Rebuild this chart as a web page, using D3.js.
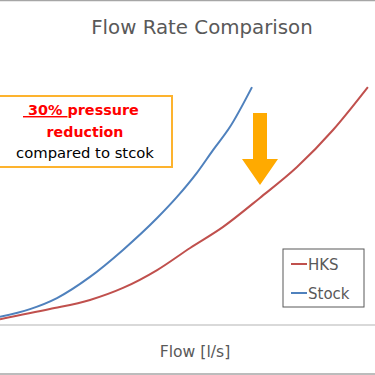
<!DOCTYPE html>
<html>
<head>
<meta charset="utf-8">
<script src="https://cdn.jsdelivr.net/npm/d3@7"></script>
<style>
body { margin: 0; background: #fff; }
svg { display: block; font-family: "DejaVu Sans", sans-serif; }
</style>
</head>
<body>
<svg id="SvgContainer"></svg>
<script>
// flow values (arbitrary units) and pressure readings per series
var stockFlow = [0, 8, 15.2, 24, 32.8, 41.9, 47.2, 52.5, 56.8, 61.3, 67.2];
var stockPressure = [2.5, 4.9, 8.3, 14.8, 23.1, 32.9, 39.4, 46.8, 53.8, 60.9, 73.2];
var hksFlow = [0, 13.3, 24, 32.8, 41.9, 50.7, 59.5, 69.3, 79.2, 88.8, 98.1];
var hksPressure = [1.8, 4.9, 7.7, 11.4, 16.9, 23.7, 30.2, 39.1, 48.6, 60, 73.2];
var seriesNames = ["HKS", "Stock"];
var seriesColors = ["#c0504d", "#4f81bd"];

function DrawChart() {
    var width = 375;
    var height = 375;

    var svg = d3.select("#SvgContainer")
        .attr("width", width)
        .attr("height", height);

    var x = d3.scaleLinear().domain([0, 100]).range([0, 375]);
    var y = d3.scaleLinear().domain([0, 100]).range([325, 0]);

    // frame lines
    svg.append("line")
        .attr("x1", 0).attr("x2", width)
        .attr("y1", 0.5).attr("y2", 0.5)
        .attr("stroke", "#a6a6a6").attr("stroke-width", 1.5);
    svg.append("line")
        .attr("x1", 0).attr("x2", width)
        .attr("y1", 374).attr("y2", 374)
        .attr("stroke", "#a6a6a6").attr("stroke-width", 1.5);

    // x axis line
    svg.append("line")
        .attr("x1", 0).attr("x2", width)
        .attr("y1", y(0)).attr("y2", y(0))
        .attr("stroke", "#d9d9d9").attr("stroke-width", 2);

    svg.append("text")
        .attr("x", 202).attr("y", 34)
        .attr("text-anchor", "middle")
        .attr("font-size", 19.8)
        .attr("fill", "#595959")
        .text("Flow Rate Comparison");

    svg.append("text")
        .attr("x", 195).attr("y", 357)
        .attr("text-anchor", "middle")
        .attr("font-size", 15.6)
        .attr("fill", "#595959")
        .text("Flow [l/s]");

    var line = d3.line()
        .x(function (d) { return x(d[0]); })
        .y(function (d) { return y(d[1]); })
        .curve(d3.curveMonotoneX);

    var hks = hksFlow.map(function (f, i) { return [f, hksPressure[i]]; });
    var stock = stockFlow.map(function (f, i) { return [f, stockPressure[i]]; });

    svg.append("path")
        .datum(hks)
        .attr("d", line)
        .attr("fill", "none")
        .attr("stroke", seriesColors[0])
        .attr("stroke-width", 2);

    svg.append("path")
        .datum(stock)
        .attr("d", line)
        .attr("fill", "none")
        .attr("stroke", seriesColors[1])
        .attr("stroke-width", 2);

    // legend
    var legend = svg.append("g").attr("transform", "translate(283,249)");
    legend.append("rect")
        .attr("x", 0).attr("y", 0)
        .attr("width", 81).attr("height", 58)
        .attr("fill", "#fff")
        .attr("stroke", "#595959").attr("stroke-width", 1);
    legend.selectAll(".LegendItem")
        .data(seriesNames)
        .enter()
        .append("g")
        .attr("class", "LegendItem")
        .each(function (d, i) {
            var g = d3.select(this);
            g.append("line")
                .attr("x1", 8).attr("x2", 24)
                .attr("y1", 15 + i * 29).attr("y2", 15 + i * 29)
                .attr("stroke", seriesColors[i]).attr("stroke-width", 2);
            g.append("text")
                .attr("x", 25).attr("y", 21 + i * 29)
                .attr("font-size", 15)
                .attr("fill", "#595959")
                .text(d);
        });

    // annotation box
    svg.append("rect")
        .attr("x", -5).attr("y", 96)
        .attr("width", 177).attr("height", 71)
        .attr("fill", "#fff")
        .attr("stroke", "#fdb32e").attr("stroke-width", 2);

    var t1 = svg.append("text")
        .attr("x", 23).attr("y", 115)
        .attr("font-size", 14.4)
        .attr("font-weight", "bold")
        .attr("fill", "#ff0000");
    t1.append("tspan").attr("text-decoration", "underline").text("\u00a030%\u00a0");
    t1.append("tspan").text("pressure");

    svg.append("text")
        .attr("x", 85).attr("y", 137)
        .attr("text-anchor", "middle")
        .attr("font-size", 14.2)
        .attr("font-weight", "bold")
        .attr("fill", "#ff0000")
        .text("reduction");

    svg.append("text")
        .attr("x", 85).attr("y", 158)
        .attr("text-anchor", "middle")
        .attr("font-size", 14.8)
        .attr("fill", "#000")
        .text("compared to stcok");

    // arrow
    svg.append("path")
        .attr("d", "M253,113 L267,113 L267,159 L278,159 L260,185 L242,159 L253,159 Z")
        .attr("fill", "#ffaa00");
}

DrawChart();
</script>
</body>
</html>
